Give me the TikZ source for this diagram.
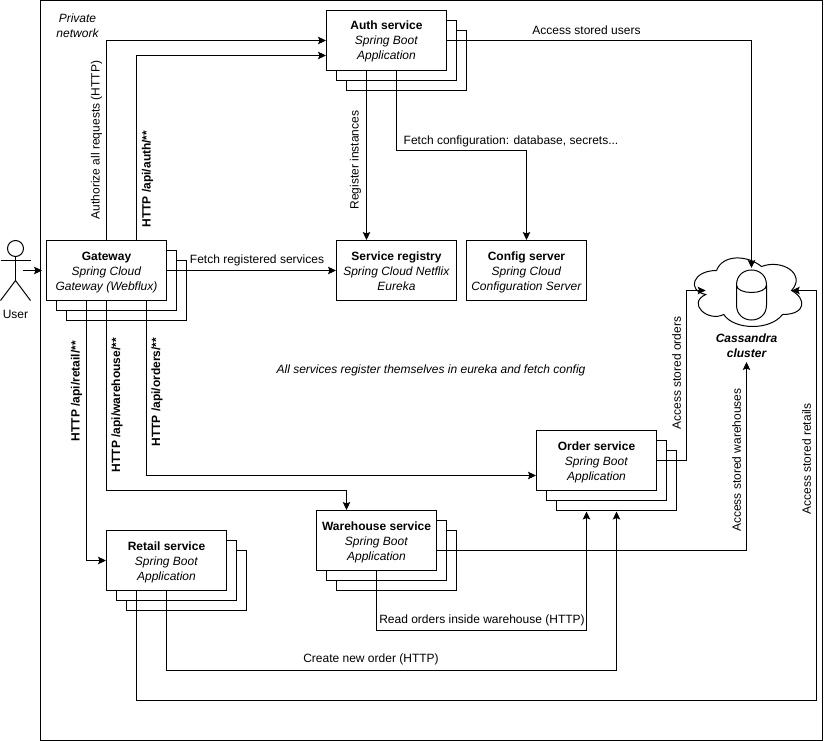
\documentclass[tikz,border=0pt]{standalone}
\usepackage{fontspec}
\setmainfont{Liberation Sans}
\usetikzlibrary{arrows.meta}

\tikzset{
  label12/.style={font=\fontsize{12}{15}\selectfont,align=center,inner sep=0pt},
  svc/.style={draw,fill=white,minimum width=120pt,minimum height=60pt,inner sep=0pt,label12,text height=39pt,text depth=0pt},
  backbox/.style={draw,fill=white,minimum width=120pt,minimum height=60pt,inner sep=0pt},
  conn/.style={-{Stealth[length=8pt,width=7.5pt,inset=1.5pt]}}
}

\begin{document}
\begin{tikzpicture}[x=1pt,y=-1pt,line width=1pt]
      \useasboundingbox (0,0) rectangle (825,741);

      % private network
      \node[draw,outer sep=0pt,minimum width=782pt,minimum height=740pt,inner sep=0pt,anchor=north west] (private) at (40.5,0.5) {};
      \node[label12,font=\fontsize{12}{15}\selectfont\itshape] (privatelabel) at (77.5,25.5) {Private\\network};

      % stacked copies behind the services
      \foreach \name/\px/\py in {gateway/106.5/270.5,auth/386.5/40.5,order/596.5/460.5,warehouse/376.5/540.5,retail/166.5/560.5}{
        \node[backbox] (\name back2) at (\px+20,\py+20) {};
        \node[backbox] (\name back1) at (\px+10,\py+10) {};
      }

      \node[svc] (gateway) at (106.5,270.5) {\textbf{Gateway}\\\textit{Spring Cloud}\\\textit{Gateway (Webflux)}};
      \node[svc] (auth) at (386.5,40.5) {\textbf{Auth service}\\\textit{Spring Boot}\\\textit{Application}};
      \node[svc] (order) at (596.5,460.5) {\textbf{Order service}\\\textit{Spring Boot}\\\textit{Application}};
      \node[svc] (warehouse) at (376.5,540.5) {\textbf{Warehouse service}\\\textit{Spring Boot}\\\textit{Application}};
      \node[svc] (retail) at (166.5,560.5) {\textbf{Retail service}\\\textit{Spring Boot}\\\textit{Application}};
      \node[svc] (registry) at (396.5,270.5) {\textbf{Service registry}\\\textit{Spring Cloud Netflix}\\\textit{Eureka}};
      \node[svc] (config) at (526.5,270.5) {\textbf{Config server}\\\textit{Spring Cloud}\\\textit{Configuration Server}};

      % user
      \node[draw,circle,minimum size=16pt,inner sep=0pt] (head) at (15.5,248.5) {};
      \coordinate (hip) at (15.5,280.5);
      \draw (head.south) -- (hip);
      \draw (0.5,260.5) -- (30.5,260.5);
      \draw (0.5,300.5) -- (hip) -- (30.5,300.5);
      \node[label12] (user) at (15.5,314) {User};
      \coordinate (userout) at (22.5,270.5);
      \coordinate (userin) at (42,270.5);
      \draw[conn] (userout) -- (userin);

      % cassandra
      \draw (716.5,270.5)
        .. controls (692.5,270.5) and (686.5,290.5) .. (705.7,294.5)
        .. controls (686.5,303.3) and (708.1,322.5) .. (723.7,314.5)
        .. controls (734.5,330.5) and (770.5,330.5) .. (782.5,314.5)
        .. controls (806.5,314.5) and (806.5,298.5) .. (791.5,290.5)
        .. controls (806.5,274.5) and (782.5,258.5) .. (761.5,266.5)
        .. controls (746.5,254.5) and (722.5,254.5) .. (716.5,270.5);
      \draw (736.5,285) .. controls (736.5,265) and (766.5,265) .. (766.5,285)
        -- (766.5,305) .. controls (766.5,325) and (736.5,325) .. (736.5,305) -- cycle;
      \draw (736.5,285) .. controls (736.5,295) and (766.5,295) .. (766.5,285);
      \node[label12,font=\fontsize{12}{15}\selectfont\bfseries\itshape] (cluster) at (746.5,346) {Cassandra\\cluster};
      \coordinate (cloudtop) at (751.5,268);
      \coordinate (cloudleft) at (705.7,290.5);
      \coordinate (cloudright) at (791.7,290.5);
      \coordinate (clusterin) at (746.5,362);

      % gateway connectors
      \draw[conn] (gateway.north -| 106.5,0) -- (106.5,40.5) -- (auth.west |- 0,40.5);
      \draw[conn] (gateway.north -| 136.5,0) -- (136.5,55.5) -- (auth.west |- 0,55.5);
      \draw[conn] (gateway.east) -- (registry.west);
      \draw[conn] (gateway.south -| 86.5,0) -- (86.5,560.5) -- (retail.west);
      \draw[conn] (gateway.south -| 106.5,0) -- (106.5,490.5) -- (346.5,490.5) -- (warehouse.north -| 346.5,0);
      \draw[conn] (gateway.south -| 146.5,0) -- (146.5,475.5) -- (order.west |- 0,475.5);

      % auth connectors
      \draw[conn] (auth.south -| 366.5,0) -- (registry.north -| 366.5,0);
      \draw[conn] (auth.south -| 396.5,0) -- (396.5,150.5) -- (526.5,150.5) -- (config.north);
      \draw[conn] (auth.east) -- (cloudtop |- auth.east) -- (cloudtop);

      % order, warehouse and retail connectors
      \coordinate (orderin1) at (586.5,511.5);
      \coordinate (orderin2) at (616.5,511.5);
      \draw[conn] (order.east) -- (686.5,460.5) -- (686.5,290.5) -- (cloudleft);
      \draw[conn] (warehouse.east |- 0,550.5) -- (746.5,550.5) -- (clusterin);
      \draw[conn] (warehouse.south -| 376.5,0) -- (376.5,630.5) -- (586.5,630.5) -- (orderin1);
      \draw[conn] (retail.south -| 166.5,0) -- (166.5,670.5) -- (616.5,670.5) -- (orderin2);
      \draw[conn] (retail.south -| 136.5,0) -- (136.5,700.5) -- (816.5,700.5) -- (816.5,290.5) -- (cloudright);

      % connector labels
      \node[label12,rotate=90] (authorize) at (96.5,140) {Authorize all requests (HTTP)};
      \node[label12,rotate=90,font=\fontsize{12}{15}\selectfont\bfseries] (apiauth) at (147.5,179) {HTTP /api/auth/**};
      \node[label12,rotate=90] (registerlabel) at (355.5,160) {Register instances};
      \node[label12] (fetchconfig) at (511,141) {Fetch configuration: database, secrets...};
      \node[label12] (usersdb) at (586.5,30.5) {Access stored users};
      \node[label12] (fetchservices) at (257,260.5) {Fetch registered services};
      \node[label12,font=\fontsize{12}{15}\selectfont\itshape] (note) at (431,370.5) {All services register themselves in eureka and fetch config};
      \node[label12,rotate=90,font=\fontsize{12}{15}\selectfont\bfseries] (apiretail) at (76.5,391) {HTTP /api/retail/**};
      \node[label12,rotate=90,font=\fontsize{12}{15}\selectfont\bfseries] (apiwarehouse) at (117,405) {HTTP /api/warehouse/**};
      \node[label12,rotate=90,font=\fontsize{12}{15}\selectfont\bfseries] (apiorders) at (157,392) {HTTP /api/orders/**};
      \node[label12,rotate=90] (ordersdb) at (676.5,373) {Access stored orders};
      \node[label12,rotate=90] (warehousesdb) at (736.5,460) {Access stored warehouses};
      \node[label12,rotate=90] (retailsdb) at (806.5,459) {Access stored retails};
      \node[label12] (readorders) at (482,620.5) {Read orders inside warehouse (HTTP)};
      \node[label12] (createorder) at (371,659.5) {Create new order (HTTP)};
   \end{tikzpicture}
\end{document}
